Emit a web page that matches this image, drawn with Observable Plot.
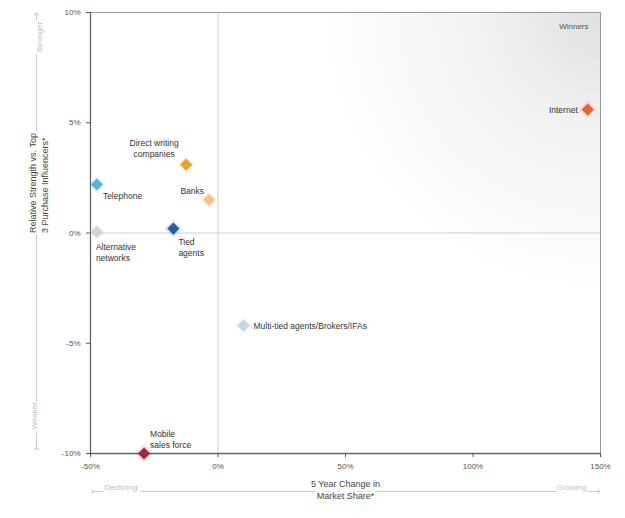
<!DOCTYPE html>
<html><head><meta charset="utf-8">
<script src="https://cdn.jsdelivr.net/npm/d3@7"></script>
<script src="https://cdn.jsdelivr.net/npm/@observablehq/plot@0.6"></script>
<style>body{margin:0;background:#fff;font-family:"Liberation Sans",Arial,sans-serif}</style>
</head><body><div id="chart"></div>
<script>
// ---- data ----
const channels = ["Internet", "Direct writing\ncompanies", "Banks", "Telephone", "Alternative\nnetworks", "Tied\nagents", "Multi-tied agents/Brokers/IFAs", "Mobile\nsales force"];
const shareChange = [145, -12.5, -3.5, -47.5, -47.5, -17.5, 10, -29];   // 5 year change in market share, %
const strength = [5.6, 3.1, 1.5, 2.2, 0.05, 0.2, -4.2, -10];            // relative strength, %
const xTicks = [-50, 0, 50, 100, 150];
const yTicks = [-10, -5, 0, 5, 10];

const rows = channels.map((c, i) => ({channel: c, x: shareChange[i], y: strength[i], i}));

// ---- styles ----
const colors = ["#e8623a", "#e0a53a", "#efc48e", "#5bb2d8", "#d8d2c8", "#2b5e9e", "#c4d4e6", "#a3243c"];
const lab = {
  0: {textAnchor: "end", dx: -10, dy: 0},
  1: {textAnchor: "middle", dx: -32, dy: -17},
  2: {textAnchor: "end", dx: -5, dy: -9},
  3: {textAnchor: "start", dx: 6, dy: 11},
  4: {textAnchor: "start", dx: -1, dy: 20},
  5: {textAnchor: "start", dx: 5, dy: 18},
  6: {textAnchor: "start", dx: 10, dy: 0},
  7: {textAnchor: "start", dx: 6, dy: -15}
};
const labelMarks = rows.map(r => Plot.text([r], {
  x: "x", y: "y", text: "channel", fontSize: 8.5, fill: "#333", lineHeight: 1.3,
  ...lab[r.i]
}));

const font = "Liberation Sans, Arial, sans-serif";

const plot = Plot.plot({
  width: 625, height: 518,
  marginLeft: 90, marginRight: 25, marginTop: 12, marginBottom: 65,
  style: {fontFamily: font, background: "#fff"},
  x: {domain: [-50, 150]},
  y: {domain: [-10, 10]},
  marks: [
    Plot.frame({fill: "url(#bgGrad)", stroke: "#9a9a9a", strokeWidth: 1}),
    Plot.ruleX([0], {stroke: "#d0d0d0", strokeWidth: 1}),
    Plot.ruleY([0], {stroke: "#d0d0d0", strokeWidth: 1}),
    Plot.ruleX([-50], {stroke: "#666", strokeWidth: 1.3}),
    Plot.ruleY([-10], {stroke: "#666", strokeWidth: 1.3}),
    Plot.axisX({ticks: xTicks, tickFormat: d => d + "%", tickSize: 4, tickPadding: 6, fontSize: 8, color: "#555", label: null}),
    Plot.axisY({ticks: yTicks, tickFormat: d => d + "%", tickSize: 4, tickPadding: 6, fontSize: 8, color: "#555", label: null}),
    // y annotation arrow + texts
    Plot.ruleX([-50], {dx: -54, y1: -9.8, y2: 9.9, stroke: "#c8c8c8", strokeWidth: 1, markerStart: "arrow", markerEnd: "arrow", clip: false}),
    Plot.text(["Stronger"], {frameAnchor: "top-left", dx: -54, dy: 40, rotate: -90, fontSize: 8, fill: "#c0c0c0", stroke: "white", strokeWidth: 5}),
    Plot.text(["Weaker"], {frameAnchor: "bottom-left", dx: -54, dy: -24, rotate: -90, fontSize: 8, fill: "#c0c0c0", stroke: "white", strokeWidth: 5}),
    Plot.text(["Relative Strength vs. Top\n3 Purchase Influencers*"], {frameAnchor: "left", dx: -52, rotate: -90, fontSize: 9, fill: "#444", stroke: "white", strokeWidth: 5, lineHeight: 1.3}),
    // x annotation arrow + texts
    Plot.ruleY([-10], {dy: 38, x1: -49, x2: 149.5, stroke: "#c8c8c8", strokeWidth: 1, markerStart: "arrow", markerEnd: "arrow", clip: false}),
    Plot.text(["Declining"], {frameAnchor: "bottom-left", dx: 14, dy: 36, textAnchor: "start", fontSize: 8, fill: "#c0c0c0", stroke: "white", strokeWidth: 5}),
    Plot.text(["Growing"], {frameAnchor: "bottom-right", dx: -14, dy: 36, textAnchor: "end", fontSize: 8, fill: "#c0c0c0", stroke: "white", strokeWidth: 5}),
    Plot.text(["5 Year Change in\nMarket Share*"], {frameAnchor: "bottom", dy: 45, fontSize: 9, fill: "#444", stroke: "white", strokeWidth: 5, lineHeight: 1.3}),
    Plot.text(["Winners"], {frameAnchor: "top-right", dx: -12, dy: 11, textAnchor: "end", fontSize: 8, fill: "#555"}),
    // points
    Plot.dot(rows, {x: "x", y: "y", symbol: "diamond2", r: 8, fill: d => colors[d.i], fillOpacity: 0.15, stroke: "none"}),
    Plot.dot(rows, {x: "x", y: "y", symbol: "diamond2", r: 5.5, fill: d => colors[d.i], stroke: "none"}),
    ...labelMarks
  ]
});

// radial background gradient from the top-right corner
const svg = d3.select(plot);
const defs = svg.insert("defs", ":first-child");
const g = defs.append("radialGradient").attr("id", "bgGrad")
  .attr("gradientUnits", "userSpaceOnUse").attr("cx", 600).attr("cy", 12).attr("r", 280);
g.append("stop").attr("offset", "0%").attr("stop-color", "#e0e0e0");
g.append("stop").attr("offset", "40%").attr("stop-color", "#f1f1f1");
g.append("stop").attr("offset", "100%").attr("stop-color", "#ffffff");

document.getElementById("chart").appendChild(plot);
</script>
</body></html>
